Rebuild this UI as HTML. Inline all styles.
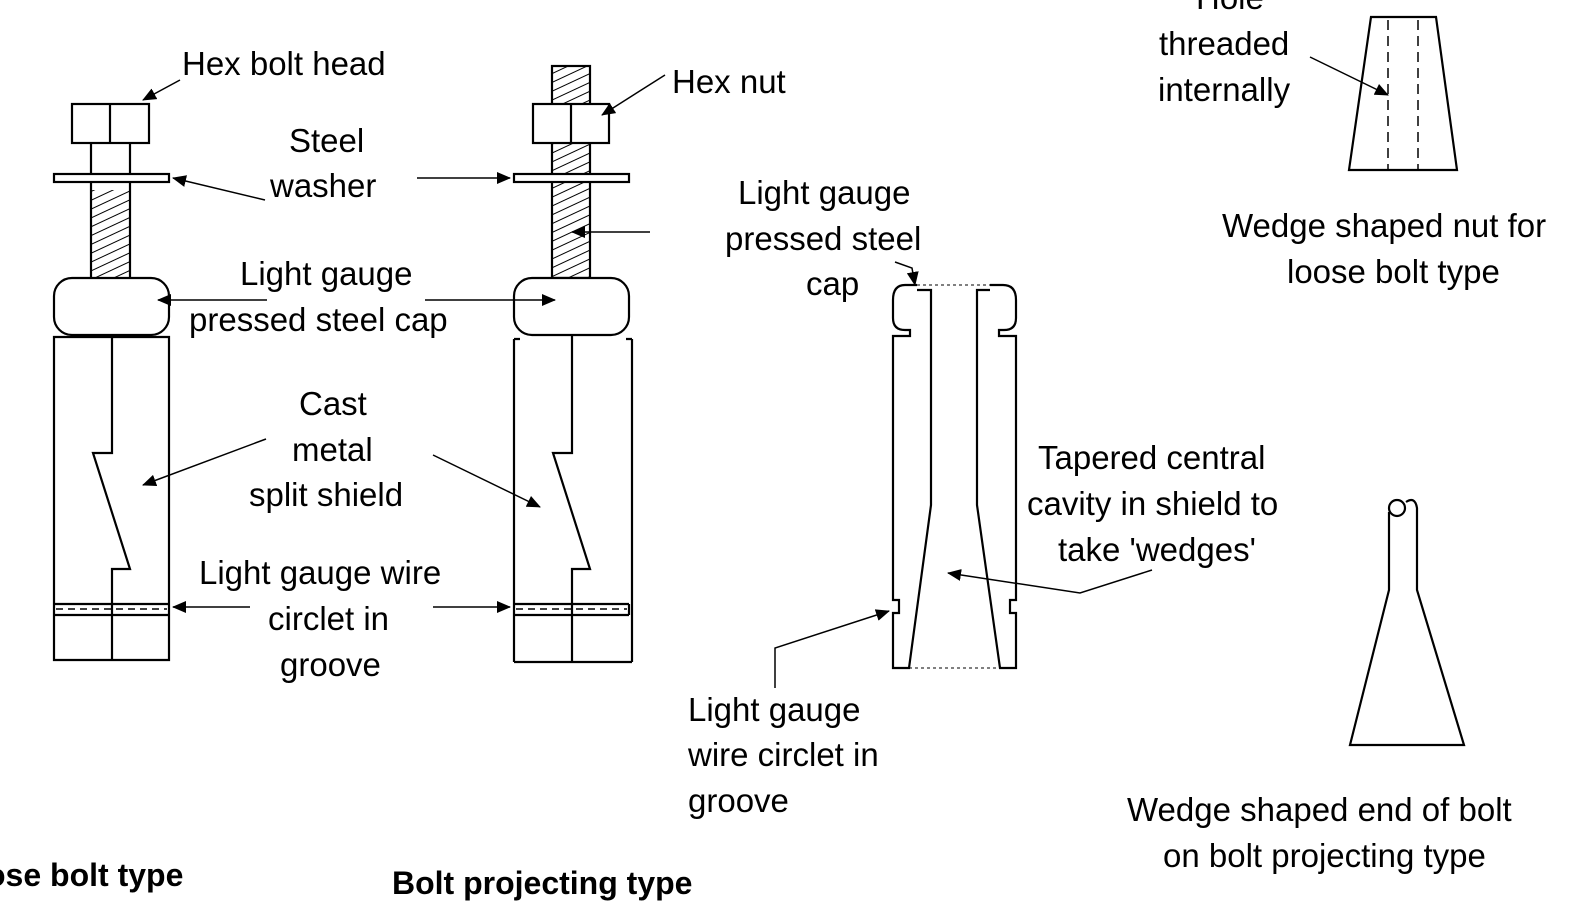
<!DOCTYPE html>
<html><head><meta charset="utf-8"><style>
html,body{margin:0;padding:0;background:#fff;}
svg{display:block}
text{font-family:"Liberation Sans",sans-serif;font-size:33px;fill:#000}
.b{font-weight:bold;font-size:32px}
</style></head><body>
<svg width="1581" height="906" viewBox="0 0 1581 906" xmlns="http://www.w3.org/2000/svg">
<defs>
<marker id="a" markerWidth="14" markerHeight="12" refX="13" refY="6" orient="auto" markerUnits="userSpaceOnUse"><path d="M0,0 L14,6 L0,12 z" fill="#000"/></marker>
<pattern id="h" width="8" height="8" patternUnits="userSpaceOnUse" patternTransform="rotate(-25)"><line x1="0" y1="4" x2="8" y2="4" stroke="#000" stroke-width="1"/></pattern>
</defs>
<g fill="none" stroke="#000" stroke-width="2.2">
<rect x="72" y="104" width="77" height="39" fill="#fff"/>
<line x1="110" y1="104" x2="110" y2="143"/>
<line x1="91" y1="143" x2="91" y2="278"/><line x1="130" y1="143" x2="130" y2="278"/>
<rect x="92" y="190" width="37" height="87" fill="url(#h)" stroke="none"/>
<rect x="54" y="174" width="115" height="8" fill="#fff"/>
<rect x="54" y="278" width="115" height="57" rx="18" fill="#fff"/>
<path d="M54,337 V660 H169 V337 Z"/>
<path d="M112,337 V453 H93 L130,569 H112 V660"/>
<line x1="54" y1="604" x2="169" y2="604"/><line x1="54" y1="615" x2="169" y2="615"/>
<line x1="56" y1="609" x2="167" y2="609" stroke-dasharray="7,5" stroke-width="1.5"/>
<rect x="552" y="66" width="38" height="212" fill="url(#h)"/>
<rect x="533" y="104" width="76" height="39" fill="#fff"/>
<line x1="571" y1="104" x2="571" y2="143"/>
<rect x="514" y="174" width="115" height="8" fill="#fff"/>
<rect x="514" y="278" width="115" height="57" rx="18" fill="#fff"/>
<path d="M514,339 V662 M632,339 V662 M514,662 H632 M514,339 H520 M626,339 H632"/>
<path d="M572,335 V453 H553 L590,569 H572 V662"/>
<line x1="514" y1="604" x2="629" y2="604"/><line x1="514" y1="615" x2="629" y2="615"/><line x1="629" y1="604" x2="629" y2="615"/>
<line x1="516" y1="609" x2="627" y2="609" stroke-dasharray="7,5" stroke-width="1.5"/>
<path d="M917,285 H905 Q893,285 893,300 V318 Q893,330 905,330 H910 V336 H893 V600 H899 V613 H893 V668 H909 L931,505 V290 H917"/>
<path d="M990,285 H1003 Q1016,285 1016,300 V318 Q1016,330 1004,330 H999 V336 H1016 V600 H1010 V613 H1016 V668 H1000 L977,505 V290 H990"/>
<line x1="917" y1="285" x2="990" y2="285" stroke-dasharray="3,3" stroke-width="1"/>
<line x1="909" y1="668" x2="1000" y2="668" stroke-dasharray="3,3" stroke-width="1"/>
<path d="M1371,17 H1436 L1457,170 H1349 Z"/>
<line x1="1388" y1="20" x2="1388" y2="170" stroke-dasharray="10,6" stroke-width="1.5"/>
<line x1="1418" y1="20" x2="1418" y2="170" stroke-dasharray="10,6" stroke-width="1.5"/>
<path d="M1389,512 V590 L1350,745 H1464 L1417,590 V508 Q1415,496 1406,502"/>
<circle cx="1397" cy="508" r="8"/>
</g>
<g stroke="#000" stroke-width="1.5" fill="none" marker-end="url(#a)">
<line x1="180" y1="80" x2="143" y2="100"/>
<line x1="665" y1="75" x2="602" y2="115"/>
<line x1="265" y1="200" x2="173" y2="178"/>
<line x1="417" y1="178" x2="510" y2="178"/>
<line x1="650" y1="232" x2="572" y2="232"/>
<line x1="267" y1="300" x2="158" y2="300"/>
<line x1="425" y1="300" x2="555" y2="300"/>
<line x1="266" y1="439" x2="143" y2="485"/>
<line x1="433" y1="455" x2="540" y2="507"/>
<line x1="250" y1="607" x2="173" y2="607"/>
<line x1="433" y1="607" x2="510" y2="607"/>
<polyline points="895,262 912,268 915,285"/>
<polyline points="775,688 775,648 889,611"/>
<polyline points="1152,570 1080,593 948,573"/>
<line x1="1310" y1="57" x2="1388" y2="95"/>
</g>
<text x="182" y="75">Hex bolt head</text>
<text x="672" y="93">Hex nut</text>
<text x="289" y="152">Steel</text>
<text x="270" y="197">washer</text>
<text x="240" y="285">Light gauge</text>
<text x="189" y="331">pressed steel cap</text>
<text x="299" y="415">Cast</text>
<text x="292" y="461">metal</text>
<text x="249" y="506">split shield</text>
<text x="199" y="584">Light gauge wire</text>
<text x="268" y="630">circlet in</text>
<text x="280" y="676">groove</text>
<text x="738" y="204">Light gauge</text>
<text x="725" y="250">pressed steel</text>
<text x="806" y="295">cap</text>
<text x="1038" y="469">Tapered central</text>
<text x="1027" y="515">cavity in shield to</text>
<text x="1058" y="561">take 'wedges'</text>
<text x="688" y="721">Light gauge</text>
<text x="688" y="766">wire circlet in</text>
<text x="688" y="812">groove</text>
<text x="1196" y="9">Hole</text>
<text x="1159" y="55">threaded</text>
<text x="1158" y="101">internally</text>
<text x="1222" y="237">Wedge shaped nut for</text>
<text x="1287" y="283">loose bolt type</text>
<text x="1127" y="821">Wedge shaped end of bolt</text>
<text x="1163" y="867">on bolt projecting type</text>
<text class="b" x="-14" y="886">ose bolt type</text>
<text class="b" x="392" y="894">Bolt projecting type</text>
</svg>
</body></html>
